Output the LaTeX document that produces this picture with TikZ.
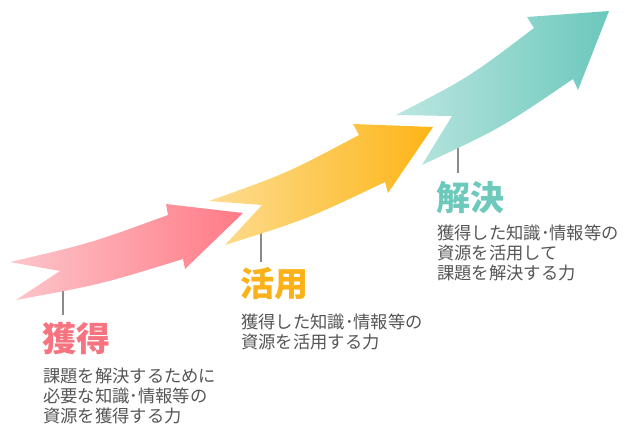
\documentclass[tikz,border=0pt]{standalone}
\usepackage{fontspec}
\setmainfont{Noto Sans CJK JP}
\definecolor{pinkL}{HTML}{FDC6CB}
\definecolor{pinkR}{HTML}{FF7A86}
\definecolor{orgL}{HTML}{FDDD92}
\definecolor{orgR}{HTML}{FDB517}
\definecolor{tealL}{HTML}{BCE6E1}
\definecolor{tealR}{HTML}{6CC8BC}
\definecolor{pinkT}{HTML}{F6737F}
\definecolor{orgT}{HTML}{FBB21A}
\definecolor{tealT}{HTML}{6CC9BB}
\definecolor{bodyG}{HTML}{555555}
\definecolor{lineG}{HTML}{8A8A8A}
\tikzset{
  titletext/.style={anchor=west, inner sep=0pt, font=\bfseries\fontsize{34}{36}\selectfont},
  bodytext/.style={anchor=west, inner sep=0pt, text=bodyG, font=\fontsize{17.3}{20}\selectfont},
  stem/.style={draw=lineG, line width=1.8pt}
}
\begin{document}
\begin{tikzpicture}[x=1pt,y=-1pt]
\useasboundingbox (0,0) rectangle (640,440);
% stems
\coordinate (p1) at (63,284);
\coordinate (p2) at (63,315);
\coordinate (o1) at (261,228);
\coordinate (o2) at (261,262);
\coordinate (t1) at (458,140);
\coordinate (t2) at (458,173);
\draw[stem] (p1) -- (p2);
\draw[stem] (o1) -- (o2);
\draw[stem] (t1) -- (t2);
% arrows
\shade[left color=pinkL, right color=pinkR]
  (10,262) .. controls (90.4,243.3) .. (168,215) -- (166,204) -- (243,213)
  -- (185,269) -- (183,259) .. controls (100.7,284.4) .. (16,300) -- (60,271) -- cycle;
\shade[left color=orgL, right color=orgR]
  (209,201) .. controls (286.4,173.5) .. (359,135) -- (353,124) -- (433,127)
  -- (388,193) -- (385,182) .. controls (307.2,219.1) .. (225,245) -- (262,205) -- cycle;
\shade[left color=tealL, right color=tealR]
  (396,115) .. controls (468.7,77.5) .. (534,28) -- (527,17) -- (609,11)
  -- (578,90) -- (573,79) .. controls (500.9,128.1) .. (422,165) -- (452,116) -- cycle;
% texts
\node[titletext, text=pinkT] (kt) at (42,338.5) {獲得};
\node[bodytext] (kb1) at (43,376) {課題を解決するために};
\node[bodytext] (kb2) at (43,396) {必要な知識･情報等の};
\node[bodytext] (kb3) at (43,416) {資源を獲得する力};
\node[titletext, text=orgT] (at) at (240,284) {活用};
\node[bodytext] (ab1) at (241,322) {獲得した知識･情報等の};
\node[bodytext] (ab2) at (241,342) {資源を活用する力};
\node[titletext, text=tealT] (st) at (436,197.5) {解決};
\node[bodytext] (sb1) at (437,233) {獲得した知識･情報等の};
\node[bodytext] (sb2) at (437,253) {資源を活用して};
\node[bodytext] (sb3) at (437,273) {課題を解決する力};
\end{tikzpicture}
\end{document}
